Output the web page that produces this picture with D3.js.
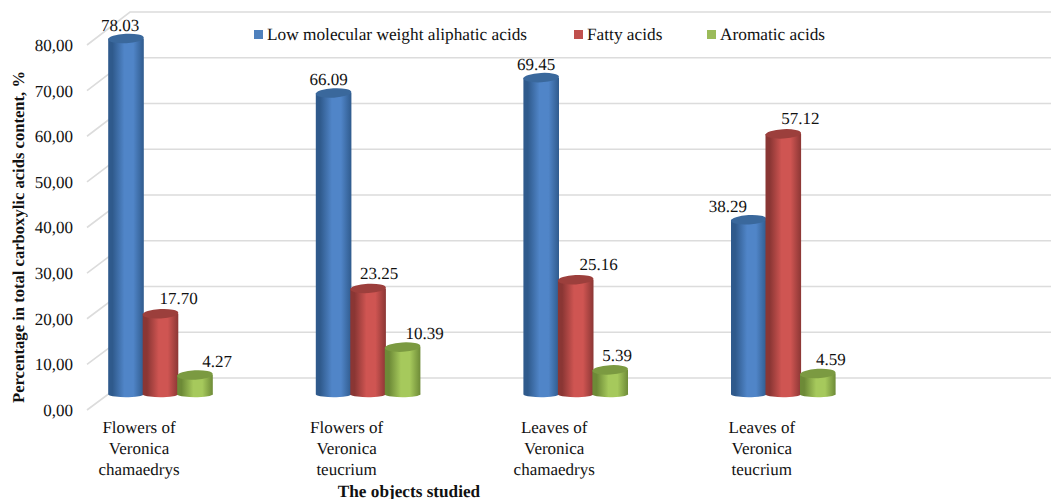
<!DOCTYPE html>
<html><head><meta charset="utf-8">
<script src="https://cdn.jsdelivr.net/npm/d3@7"></script>
<style>html,body{margin:0;padding:0;background:#fff}svg{display:block;text-rendering:geometricPrecision}text{font-family:"Liberation Serif",serif;fill:#111}</style>
</head><body><svg id="c" width="1051" height="499"></svg>
<script>
const categories=[["Flowers of","Veronica","chamaedrys"],["Flowers of","Veronica","teucrium"],["Leaves of","Veronica","chamaedrys"],["Leaves of","Veronica","teucrium"]];
const seriesNames=["Low molecular weight aliphatic acids","Fatty acids","Aromatic acids"];
const aliphatic=[78.03,66.09,69.45,38.29];
const fatty=[17.70,23.25,25.16,57.12];
const aromatic=[4.27,10.39,5.39,4.59];
const tickValues=[0,10,20,30,40,50,60,70,80];
const yTitle="Percentage in total carboxylic acids content, %";
const xTitle="The objects studied";

const svg=d3.select("#c"),defs=svg.append("defs");
const series=[aliphatic,fatty,aromatic];
const palettes=[
 {name:"b",edge:"#2f5a8c",mid:"#5085c8",top:"#3a689c",sw:"#4f81bd"},
 {name:"r",edge:"#8a3634",mid:"#cf5552",top:"#9c3f3c",sw:"#c0504d"},
 {name:"g",edge:"#6d8a37",mid:"#a6c95c",top:"#7b9a41",sw:"#9bbb59"}];
palettes.forEach(p=>{
 const g=defs.append("linearGradient").attr("id","g"+p.name);
 [[0,p.edge],[.12,p.edge],[.45,p.mid],[.7,p.mid],[1,p.edge]].forEach(s=>g.append("stop").attr("offset",s[0]).attr("stop-color",s[1]));
});
const y=d3.scaleLinear().domain([0,80]).range([378,12]);
const yFront=d3.scaleLinear().domain([0,80]).range([410,45]);
const yBar=d3.scaleLinear().domain([0,80]).range([394.5,29.5]);
const x0=d3.scaleBand().domain(d3.range(4)).range([56.7,887.1]);
const x1=d3.scalePoint().domain([0,1,2]).range([-34.5,34.5]);
const grid="#dcdcdc";
const gridG=svg.append("g").attr("stroke",grid).attr("stroke-width",1.6).attr("fill","none");
tickValues.forEach(t=>{
 gridG.append("path").attr("d",`M87,${yFront(t)}L130,${y(t)}L1051,${y(t)}`);
});
const yAxis=d3.axisLeft(yFront).tickValues(tickValues).tickSize(0).tickPadding(0)
 .tickFormat(d=>d3.format(".2f")(d).replace(".",","));
const ax=svg.append("g").attr("transform","translate(73,0)").call(yAxis);
ax.select(".domain").remove();
ax.selectAll("text").style("font-family",'"Liberation Serif",serif').style("font-size","17px").attr("fill","#111");

const rx=17.8,ry=4.7;
const labelDx=[[-6,-5,-5,-21],[18,11,23,17],[22,22,7,13]];
const labelDy=[-13,-15,-14];
series.forEach((vals,s)=>{
 const p=palettes[s],g=svg.append("g");
 vals.forEach((v,i)=>{
  const cx=x0(i)+x0.bandwidth()/2+x1(s);
  const b=yBar(0),t=yBar(v);
  g.append("path").attr("fill",`url(#g${p.name})`)
   .attr("d",`M${cx-rx},${t}L${cx-rx},${b}A${rx},${ry-1.5} 0 0 0 ${cx+rx},${b-1}L${cx+rx},${t}Z`);
  g.append("ellipse").attr("cx",cx).attr("cy",t).attr("rx",rx).attr("ry",ry)
   .attr("transform",`rotate(-3 ${cx} ${t})`).attr("fill",p.top);
  svg.append("text").attr("class","lab").datum([cx+labelDx[s][i],t+labelDy[s]+5.5,v]);
 });
});
svg.selectAll("text.lab").attr("x",d=>d[0]).attr("y",d=>d[1]).attr("text-anchor","middle")
 .attr("font-size",17).text(d=>d[2].toFixed(2)).raise();

categories.forEach((lines,i)=>{
 const cx=x0(i)+x0.bandwidth()/2-21.5;
 lines.forEach((l,k)=>svg.append("text").attr("x",cx).attr("y",433+k*20.8).attr("text-anchor","middle").attr("font-size",17).text(l));
});
svg.append("text").attr("x",409).attr("y",496.5).attr("text-anchor","middle").attr("font-size",17.2).attr("font-weight","bold").text(xTitle);
svg.append("text").attr("transform","translate(24,237) rotate(-90)").attr("text-anchor","middle").attr("font-size",16.6).attr("font-weight","bold").text(yTitle);

const legendX=[254,574,707];
seriesNames.forEach((n,i)=>{
 svg.append("rect").attr("x",legendX[i]).attr("y",30).attr("width",9).attr("height",9).attr("fill",palettes[i].sw);
 svg.append("text").attr("x",legendX[i]+13).attr("y",39.5).attr("font-size",17.3).text(n);
});
</script></body></html>
